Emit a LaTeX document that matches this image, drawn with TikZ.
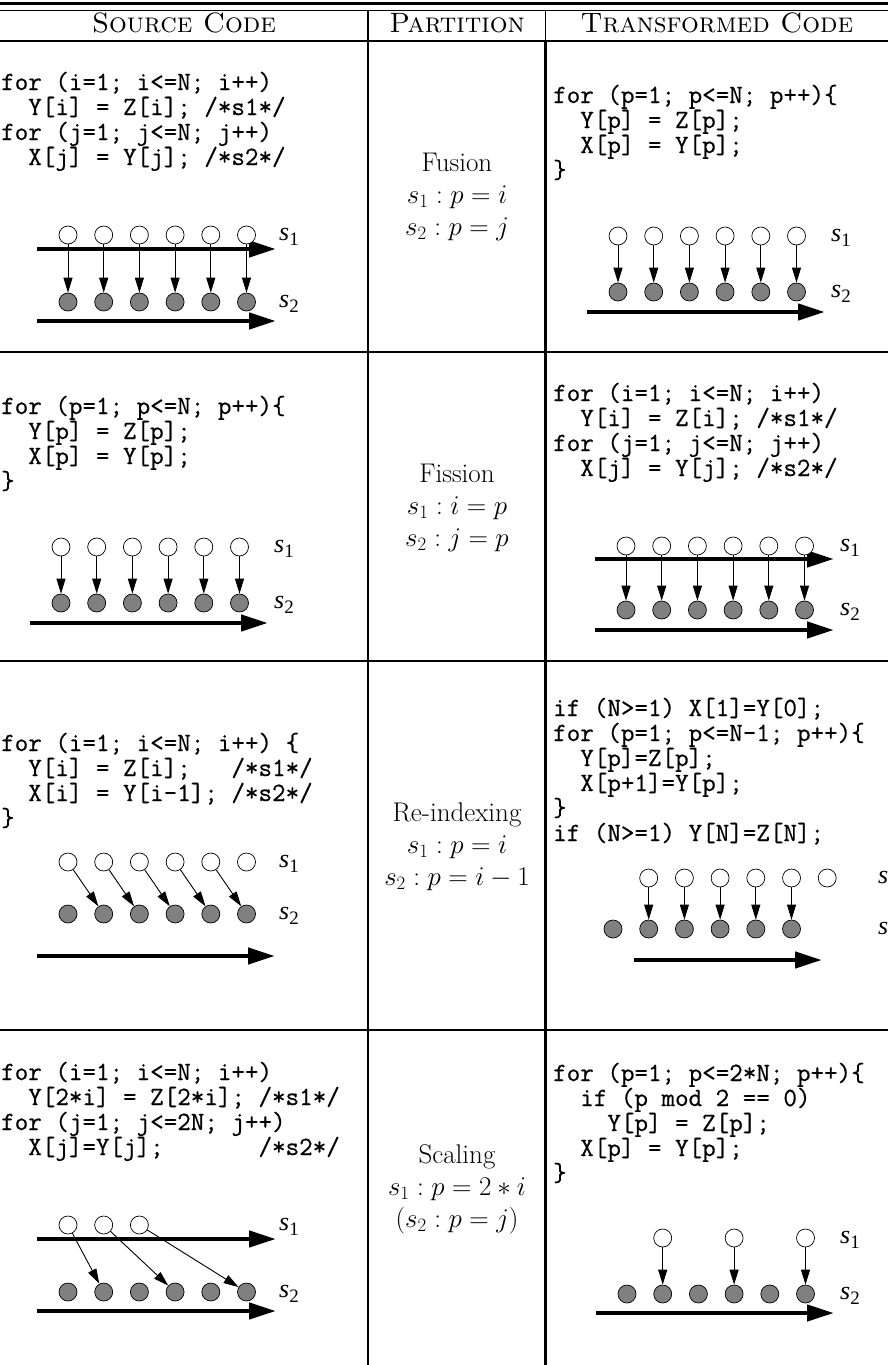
\RequirePackage{fix-cm}
\documentclass[tikz,border=0pt]{standalone}
\usepackage{fontspec}
\newfontfamily\tms{Liberation Serif}
\newfontfamily\codefont{Latin Modern Mono}[FakeBold=0.6]
\usetikzlibrary{arrows.meta}
\tikzset{
  tabrule/.style={line width=2pt},
  codetxt/.style={font=\fontsize{26.3}{25}\selectfont\codefont, anchor=base west, inner sep=0pt},
  hdr/.style={font=\fontsize{28}{30}\selectfont\scshape, anchor=base, inner sep=0pt},
  parttxt/.style={font=\fontsize{27}{32}\selectfont, anchor=base, inner sep=0pt},
  wdot/.style={circle, draw=black, line width=0.7pt, fill=white, minimum size=18pt, inner sep=0pt},
  gdot/.style={circle, draw=black, line width=0.7pt, fill=black!50, minimum size=18pt, inner sep=0pt},
  dep/.style={-{Triangle[length=15pt,width=9pt]}, line width=0.9pt},
  taxis/.style={-{Triangle[length=27pt,width=16pt]}, line width=4.5pt},
  slab/.style={anchor=base west, inner sep=0pt},
}
\newcommand\slabel[1]{{\tms\fontsize{26}{26}\selectfont\itshape s}\raisebox{-5pt}{\tms\fontsize{19}{19}\selectfont #1}}
\newcommand\codeln[4]{\node[codetxt] (#1) at (#2,#3) {#4};}
\newcommand\dotrow[5]{\foreach \k in {#5} {\node[#2] (#1\k) at ({#3+35.7*\k},#4) {};}}
\begin{document}
\begin{tikzpicture}[x=1pt,y=-1pt]
\useasboundingbox (0,0) rectangle (888,1365);
\clip (0,0) rectangle (888,1365);
% ---------- table rules ----------
\draw[line width=3pt] (0,3.5) -- (888,3.5);
\draw[line width=1.8pt] (0,10.5) -- (888,10.5);
\draw[tabrule] (0,41) -- (888,41);
\draw[tabrule] (0,352) -- (888,352);
\draw[tabrule] (0,661) -- (888,661);
\draw[tabrule] (0,1030) -- (888,1030);
\draw[line width=1.6pt] (368,10.5) -- (368,1365);
\draw[line width=1.6pt] (545.5,10.5) -- (545.5,41);
\draw[line width=3pt] (545.5,41) -- (545.5,1365);
% ---------- header ----------
\node[hdr] (h1) at (184,32) {Source Code};
\node[hdr] (h2) at (457,32) {Partition};
\node[hdr] (h3) at (717,32) {Transformed Code};
% ---------- partition column ----------
\node[parttxt] (p1a) at (457,171) {Fusion};
\node[parttxt] (p1b) at (457,203) {$s_1 : p = i$};
\node[parttxt] (p1c) at (457,235) {$s_2 : p = j$};
\node[parttxt] (p2a) at (457,482) {Fission};
\node[parttxt] (p2b) at (457,514) {$s_1 : i = p$};
\node[parttxt] (p2c) at (457,546) {$s_2 : j = p$};
\node[parttxt] (p3a) at (457,821) {Re-indexing};
\node[parttxt] (p3b) at (457,853) {$s_1 : p = i$};
\node[parttxt] (p3c) at (457,885) {$s_2 : p = i - 1$};
\node[parttxt] (p4a) at (457,1163) {Scaling};
\node[parttxt] (p4b) at (457,1195) {$s_1 : p = 2 * i$};
\node[parttxt] (p4c) at (457,1227) {$(s_2 : p = j)$};
% ---------- code ----------
\codeln{c1a}{1}{90}{for~(i=1;~i<=N;~i++)}
\codeln{c1b}{1}{115}{~~Y[i]~=~Z[i];~/*s1*/}
\codeln{c1c}{1}{140}{for~(j=1;~j<=N;~j++)}
\codeln{c1d}{1}{165}{~~X[j]~=~Y[j];~/*s2*/}
\codeln{t1a}{553}{103}{for~(p=1;~p<=N;~p++)\{}
\codeln{t1b}{553}{128}{~~Y[p]~=~Z[p];}
\codeln{t1c}{553}{153}{~~X[p]~=~Y[p];}
\codeln{t1d}{553}{178}{\}}
\codeln{c2a}{1}{414}{for~(p=1;~p<=N;~p++)\{}
\codeln{c2b}{1}{439}{~~Y[p]~=~Z[p];}
\codeln{c2c}{1}{464}{~~X[p]~=~Y[p];}
\codeln{c2d}{1}{489}{\}}
\codeln{t2a}{553}{401}{for~(i=1;~i<=N;~i++)}
\codeln{t2b}{553}{426}{~~Y[i]~=~Z[i];~/*s1*/}
\codeln{t2c}{553}{451}{for~(j=1;~j<=N;~j++)}
\codeln{t2d}{553}{476}{~~X[j]~=~Y[j];~/*s2*/}
\codeln{c3a}{1}{751}{for~(i=1;~i<=N;~i++)~\{}
\codeln{c3b}{1}{776}{~~Y[i]~=~Z[i];~~~/*s1*/}
\codeln{c3c}{1}{801}{~~X[i]~=~Y[i-1];~/*s2*/}
\codeln{c3d}{1}{826}{\}}
\codeln{t3a}{553}{716}{if~(N>=1)~X[1]=Y[0];}
\codeln{t3b}{553}{741}{for~(p=1;~p<=N-1;~p++)\{}
\codeln{t3c}{553}{766}{~~Y[p]=Z[p];}
\codeln{t3d}{553}{791}{~~X[p+1]=Y[p];}
\codeln{t3e}{553}{816}{\}}
\codeln{t3f}{553}{841}{if~(N>=1)~Y[N]=Z[N];}
\codeln{c4a}{1}{1080}{for~(i=1;~i<=N;~i++)}
\codeln{c4b}{1}{1105}{~~Y[2*i]~=~Z[2*i];~/*s1*/}
\codeln{c4c}{1}{1130}{for~(j=1;~j<=2N;~j++)}
\codeln{c4d}{1}{1155}{~~X[j]=Y[j];~~~~~~~/*s2*/}
\codeln{t4a}{553}{1081}{for~(p=1;~p<=2*N;~p++)\{}
\codeln{t4b}{553}{1106}{~~if~(p~mod~2~==~0)}
\codeln{t4c}{553}{1131}{~~~~Y[p]~=~Z[p];}
\codeln{t4d}{553}{1156}{~~X[p]~=~Y[p];}
\codeln{t4e}{553}{1181}{\}}
% ---------- diagram row 1 left (fusion source) ----------
\coordinate (a1s) at (37,249); \coordinate (a1e) at (276,249);
\coordinate (a2s) at (37,321); \coordinate (a2e) at (276,321);
\draw[taxis] (a1s) -- (a1e);
\draw[taxis] (a2s) -- (a2e);
\dotrow{aw}{wdot}{68}{235}{0,...,5}
\dotrow{ag}{gdot}{68}{302}{0,...,5}
\foreach \k in {0,...,5} {\draw[dep] (aw\k) -- (ag\k);}
\node[slab] (as1) at (279,240) {\slabel{1}};
\node[slab] (as2) at (279,307) {\slabel{2}};
% ---------- diagram row 1 right (fusion result) ----------
\coordinate (b1s) at (587,312); \coordinate (b1e) at (825,312);
\draw[taxis] (b1s) -- (b1e);
\dotrow{bw}{wdot}{618}{236}{0,...,5}
\dotrow{bg}{gdot}{618}{292}{0,...,5}
\foreach \k in {0,...,5} {\draw[dep] (bw\k) -- (bg\k);}
\node[slab] (bs1) at (831,241) {\slabel{1}};
\node[slab] (bs2) at (831,297) {\slabel{2}};
% ---------- diagram row 2 left (fission source) ----------
\coordinate (c1s) at (30,623); \coordinate (c1e) at (268,623);
\draw[taxis] (c1s) -- (c1e);
\dotrow{cw}{wdot}{61}{547}{0,...,5}
\dotrow{cg}{gdot}{61}{603}{0,...,5}
\foreach \k in {0,...,5} {\draw[dep] (cw\k) -- (cg\k);}
\node[slab] (cs1) at (274,552) {\slabel{1}};
\node[slab] (cs2) at (274,608) {\slabel{2}};
% ---------- diagram row 2 right (fission result) ----------
\coordinate (d1s) at (595,559); \coordinate (d1e) at (834,559);
\coordinate (d2s) at (595,630); \coordinate (d2e) at (834,630);
\draw[taxis] (d1s) -- (d1e);
\draw[taxis] (d2s) -- (d2e);
\dotrow{dw}{wdot}{626}{546}{0,...,5}
\dotrow{dg}{gdot}{626}{610}{0,...,5}
\foreach \k in {0,...,5} {\draw[dep] (dw\k) -- (dg\k);}
\node[slab] (ds1) at (840,551) {\slabel{1}};
\node[slab] (ds2) at (840,615) {\slabel{2}};
% ---------- diagram row 3 left (re-indexing source) ----------
\coordinate (e1s) at (37,956); \coordinate (e1e) at (275,956);
\draw[taxis] (e1s) -- (e1e);
\dotrow{ew}{wdot}{68}{862}{0,...,5}
\dotrow{eg}{gdot}{68}{914}{0,...,5}
\foreach \k in {0,...,4} {\pgfmathtruncatemacro\kk{\k+1}\draw[dep] (ew\k) -- (eg\kk);}
\node[slab] (es1) at (279,867) {\slabel{1}};
\node[slab] (es2) at (279,919) {\slabel{2}};
% ---------- diagram row 3 right (re-indexing result) ----------
\coordinate (f1s) at (634,960); \coordinate (f1e) at (822,960);
\draw[taxis] (f1s) -- (f1e);
\dotrow{fw}{wdot}{613}{878}{1,...,6}
\dotrow{fg}{gdot}{613}{929}{0,...,5}
\foreach \k in {1,...,5} {\draw[dep] (fw\k) -- (fg\k);}
\node[slab] (fs1) at (878,883) {\slabel{1}};
\node[slab] (fs2) at (878,934) {\slabel{2}};
% ---------- diagram row 4 left (scaling source) ----------
\coordinate (g1s) at (37,1239); \coordinate (g1e) at (276,1239);
\coordinate (g2s) at (37,1311); \coordinate (g2e) at (276,1311);
\draw[taxis] (g1s) -- (g1e);
\draw[taxis] (g2s) -- (g2e);
\dotrow{gw}{wdot}{68}{1225}{0,1,2}
\dotrow{gg}{gdot}{68}{1292}{0,...,5}
\foreach \k/\j in {0/1,1/3,2/5} {\draw[dep] (gw\k) -- (gg\j);}
\node[slab] (gs1) at (279,1230) {\slabel{1}};
\node[slab] (gs2) at (279,1297) {\slabel{2}};
% ---------- diagram row 4 right (scaling result) ----------
\coordinate (h1s) at (596,1313); \coordinate (h1e) at (834,1313);
\draw[taxis] (h1s) -- (h1e);
\dotrow{hw}{wdot}{627}{1238}{1,3,5}
\dotrow{hg}{gdot}{627}{1294}{0,...,5}
\foreach \k in {1,3,5} {\draw[dep] (hw\k) -- (hg\k);}
\node[slab] (hs1) at (840,1243) {\slabel{1}};
\node[slab] (hs2) at (840,1299) {\slabel{2}};
\end{tikzpicture}
\end{document}
